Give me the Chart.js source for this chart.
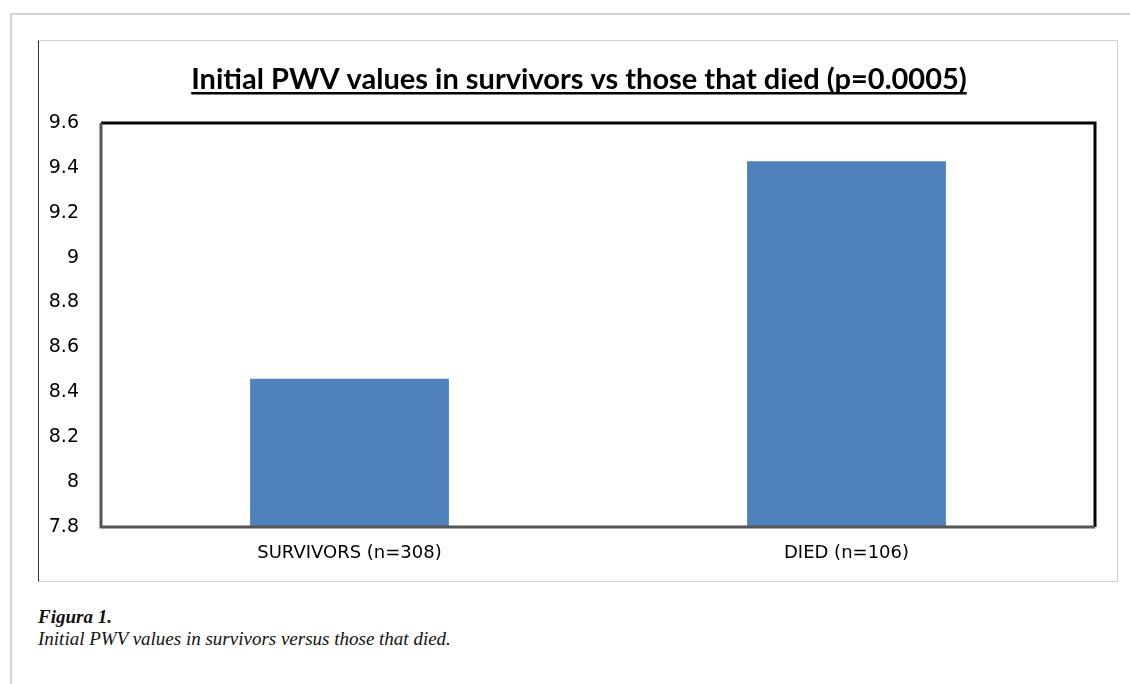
<!DOCTYPE html>
<html lang="en">
<head>
<meta charset="UTF-8">
<title>Initial PWV values in survivors vs those that died</title>
<style>
  html, body { margin: 0; padding: 0; background: #fff; }
  body { width: 1130px; height: 684px; position: relative; overflow: hidden; }
  .page { position: absolute; left: 10px; top: 13px; width: 1140px; height: 700px;
          border-top: 2px solid #d3d3d3; border-left: 2px solid #d3d3d3; }
  .figure { position: absolute; left: 38px; top: 40px; width: 1078px; height: 540px;
            border: 1px solid #cfcfcf; border-left: 1px solid #333; }
  #chart { position: absolute; left: 0; top: 0; }
  .caption { position: absolute; left: 38px; top: 606px; font-family: "Liberation Serif", serif;
             font-style: italic; font-size: 19px; line-height: 22px; color: #111; }
  .caption b { font-weight: bold; }
</style>
</head>
<body>
<div class="page"></div>
<div class="figure">
  <canvas id="chart" width="1078" height="540"></canvas>
</div>
<div class="caption">
  <b>Figura 1.</b><br>
  Initial PWV values in survivors versus those that died.
</div>

<script src="https://cdn.jsdelivr.net/npm/chart.js@4/dist/chart.umd.min.js"></script>
<script>
  // data
  var categories = ['SURVIVORS (n=308)', 'DIED (n=106)'];
  var pwvValues = [8.46, 9.43];
  var yTicks = [7.8, 8.0, 8.2, 8.4, 8.6, 8.8, 9.0, 9.2, 9.4, 9.6];
  var chartTitle = 'Initial PWV values in survivors vs those that died (p=0.0005)';

  // title with underline + the excel style plot frame
  var framePlugin = {
    id: 'frame',
    afterDraw: function (chart) {
      var ctx = chart.ctx;
      var a = chart.chartArea;
      ctx.save();
      ctx.lineWidth = 3;
      ctx.strokeStyle = '#000';
      ctx.beginPath();
      ctx.moveTo(a.left, a.top);
      ctx.lineTo(a.right, a.top);
      ctx.lineTo(a.right, a.bottom);
      ctx.stroke();
      ctx.strokeStyle = '#555';
      ctx.beginPath();
      ctx.moveTo(a.left, a.top);
      ctx.lineTo(a.left, a.bottom);
      ctx.lineTo(a.right, a.bottom);
      ctx.stroke();

      ctx.font = 'bold 29px Lato, "Open Sans", sans-serif';
      ctx.fillStyle = '#000';
      ctx.textAlign = 'center';
      ctx.textBaseline = 'alphabetic';
      var cx = 540;
      ctx.fillText(chartTitle, cx, 48);
      var w = ctx.measureText(chartTitle).width;
      ctx.fillRect(cx - w / 2, 51, w, 2.5);
      ctx.restore();
    }
  };

  new Chart(document.getElementById('chart'), {
    type: 'bar',
    data: {
      labels: categories,
      datasets: [{
        data: pwvValues,
        backgroundColor: '#4F81BD',
        borderWidth: 0,
        barPercentage: 0.4,
        categoryPercentage: 1.0
      }]
    },
    options: {
      responsive: false,
      animation: false,
      layout: { padding: { top: 82, right: 22, bottom: 0, left: 0 } },
      plugins: { legend: { display: false }, title: { display: false }, tooltip: { enabled: false } },
      scales: {
        x: {
          grid: { display: false, drawTicks: false },
          border: { display: false },
          ticks: { color: '#000', padding: 16, font: { family: 'DejaVu Sans', size: 18 } },
          afterFit: function (s) { s.height = 54; }
        },
        y: {
          min: 7.8,
          max: 9.6,
          grid: { display: false, drawTicks: false },
          border: { display: false },
          afterBuildTicks: function (s) { s.ticks = yTicks.map(function (v) { return { value: v }; }); },
          ticks: {
            color: '#000',
            padding: 22,
            font: { family: 'DejaVu Sans', size: 19 },
            callback: function (v) { return String(Math.round(v * 10) / 10); }
          },
          afterFit: function (s) { s.width = 62; }
        }
      }
    },
    plugins: [framePlugin]
  });
</script>
</body>
</html>
